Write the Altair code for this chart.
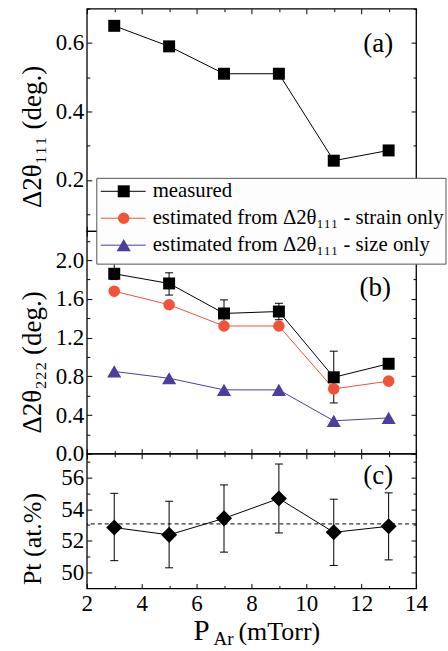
import altair as alt
import pandas as pd

# ---------------- data ----------------
p_ar = [3, 5, 7, 9, 11, 13]

d111_measured = [0.65, 0.59, 0.51, 0.51, 0.256, 0.286]

d222_measured = [1.86, 1.76, 1.45, 1.47, 0.79, 0.93]
d222_lo = [1.80, 1.64, 1.30, 1.385, 0.525, 0.88]
d222_hi = [1.97, 1.87, 1.59, 1.555, 1.06, 0.97]
d222_strain = [1.68, 1.54, 1.32, 1.32, 0.67, 0.75]
d222_size = [0.85, 0.78, 0.66, 0.66, 0.34, 0.37]

pt = [52.84, 52.38, 53.42, 54.67, 52.54, 52.92]
pt_lo = [50.75, 50.3, 51.29, 52.5, 50.45, 50.8]
pt_hi = [55.0, 54.5, 55.53, 56.85, 54.63, 55.03]
pt_mean = 53.07

series_names = ["measured",
                "estimated from Δ2θ₁₁₁ - strain only",
                "estimated from Δ2θ₁₁₁ - size only"]
series_colors = ["black", "#F25237", "#4B3E9E"]
series_shapes = ["square", "circle", "triangle-up"]
series_sizes = [144, 135, 200]

panel_labels = ["(a)", "(b)", "(c)"]
y_titles = ["Δ2θ₁₁₁ (deg.)", "Δ2θ₂₂₂ (deg.)", "Pt (at.%)"]
x_title_parts = ["P", "Ar", "(mTorr)"]

x_major = [2, 4, 6, 8, 10, 12, 14]
x_minor = [3, 5, 7, 9, 11, 13]
ya_major = [0.2, 0.4, 0.6]
ya_minor = [0.1, 0.3, 0.5, 0.7]
yb_major = [0.0, 0.4, 0.8, 1.2, 1.6, 2.0]
yb_minor = [0.2, 0.6, 1.0, 1.4, 1.8, 2.2]
yc_major = [50, 52, 54, 56]
yc_minor = [51, 53, 55, 57]

# ---------------- style ----------------
FONT = "Liberation Serif, DejaVu Serif, serif"
W = 330
HA, HB, HC = 223, 223, 135
MAJ, MIN = 5, 3
LABEL_SIZE = 23

x_scale = alt.Scale(domain=[2, 14], nice=False, zero=False)
ya_scale = alt.Scale(domain=[0.05, 0.70], nice=False, zero=False)
yb_scale = alt.Scale(domain=[0.0, 2.3], nice=False, zero=False)
yc_scale = alt.Scale(domain=[49, 57.5], nice=False, zero=False)


def tick_axis(orient, values, size):
    return alt.Axis(orient=orient, values=values, labels=False, domain=False,
                    grid=False, title=None, tickSize=size, offset=-size,
                    tickColor="black", tickWidth=1)


def axis_layers(df, yscale, ymaj, ymin, ytitle, title_y, title_size, yfmt, x_labels):
    base = alt.Chart(df).mark_point(opacity=0)

    def lay(xa, ya):
        return base.encode(x=alt.X("x:Q", scale=x_scale, axis=xa),
                           y=alt.Y("y:Q", scale=yscale, axis=ya))

    if x_labels:
        xlab = alt.Axis(orient="bottom", values=x_major, ticks=False, tickSize=0,
                        domain=False, grid=False, title=None, format="d",
                        labelFlush=False, labelOverlap=False, labelPadding=4,
                        labelFontSize=LABEL_SIZE, labelFont=FONT, labelColor="black")
    else:
        xlab = None
    ylab = alt.Axis(orient="left", values=ymaj, ticks=False, tickSize=0,
                    domain=False, grid=False, format=yfmt, labelOverlap=False,
                    labelPadding=3, labelFontSize=LABEL_SIZE, labelFont=FONT,
                    labelColor="black", title=ytitle, titleFont=FONT,
                    titleFontSize=title_size, titleFontWeight="normal", titleColor="black",
                    titleAngle=270, titleAlign="center", titleBaseline="alphabetic",
                    titleX=-46, titleY=title_y)
    return [
        lay(xlab, ylab),
        lay(tick_axis("bottom", x_major, MAJ), tick_axis("left", ymaj, MAJ)),
        lay(tick_axis("bottom", x_minor, MIN), tick_axis("left", ymin, MIN)),
        lay(tick_axis("top", x_major, MAJ), tick_axis("right", ymaj, MAJ)),
        lay(tick_axis("top", x_minor, MIN), tick_axis("right", ymin, MIN)),
    ]


def series(df, yscale, color, shape, size, ycol="y"):
    enc = dict(x=alt.X("x:Q", scale=x_scale, axis=None),
               y=alt.Y(f"{ycol}:Q", scale=yscale, axis=None))
    line = alt.Chart(df).mark_line(color=color, strokeWidth=1).encode(**enc)
    pts = alt.Chart(df).mark_point(shape=shape, filled=True, size=size, color=color,
                                   opacity=1, strokeWidth=0).encode(**enc)
    return line, pts


def errbars(df, yscale):
    rule = alt.Chart(df).mark_rule(color="black", strokeWidth=1).encode(
        x=alt.X("x:Q", scale=x_scale, axis=None),
        y=alt.Y("lo:Q", scale=yscale, axis=None), y2="hi:Q")
    cap_lo = alt.Chart(df).mark_tick(orient="horizontal", size=8, thickness=1,
                                     color="black", opacity=1).encode(
        x=alt.X("x:Q", scale=x_scale, axis=None),
        y=alt.Y("lo:Q", scale=yscale, axis=None))
    cap_hi = alt.Chart(df).mark_tick(orient="horizontal", size=8, thickness=1,
                                     color="black", opacity=1).encode(
        x=alt.X("x:Q", scale=x_scale, axis=None),
        y=alt.Y("hi:Q", scale=yscale, axis=None))
    return [rule, cap_lo, cap_hi]


def panel_label(text, x, y):
    return alt.Chart(pd.DataFrame({"t": [text]})).mark_text(
        font=FONT, fontSize=27, color="black", align="center", baseline="middle"
    ).encode(x=alt.value(x), y=alt.value(y), text="t:N")


# ---------------- panel (a) ----------------
dfa = pd.DataFrame({"x": p_ar, "y": d111_measured})
la, pa_pts = series(dfa, ya_scale, series_colors[0], series_shapes[0], series_sizes[0])
panel_a = alt.layer(
    *axis_layers(dfa, ya_scale, ya_major, ya_minor, y_titles[0], 128, 27, ".1f", False),
    la, pa_pts, panel_label(panel_labels[0], 292, 35)
).resolve_axis(x="independent", y="independent").properties(width=W, height=HA)

# ---------------- panel (b) ----------------
dfb = pd.DataFrame({"x": p_ar, "y": d222_measured, "lo": d222_lo, "hi": d222_hi})
dfs = pd.DataFrame({"x": p_ar, "y": d222_strain})
dfz = pd.DataFrame({"x": p_ar, "y": d222_size})
lz, pz = series(dfz, yb_scale, series_colors[2], series_shapes[2], series_sizes[2])
ls, ps = series(dfs, yb_scale, series_colors[1], series_shapes[1], series_sizes[1])
lm, pm = series(dfb, yb_scale, series_colors[0], series_shapes[0], series_sizes[0])

legend_layers = [
    alt.Chart(pd.DataFrame({"k": [0]})).mark_rect(
        fill="#fdfdfd", stroke="#555555", strokeWidth=1
    ).encode(x=alt.value(10), x2=alt.value(360), y=alt.value(-53), y2=alt.value(33))
]
for i, name in enumerate(series_names):
    yy = -40 + i * 27
    ldf = pd.DataFrame({"label": [name]})
    legend_layers.append(alt.Chart(ldf).mark_rule(color=series_colors[i], strokeWidth=1).encode(
        x=alt.value(14), x2=alt.value(59), y=alt.value(yy)))
    legend_layers.append(alt.Chart(ldf).mark_point(
        shape=series_shapes[i], filled=True, size=series_sizes[i], color=series_colors[i],
        opacity=1, strokeWidth=0).encode(x=alt.value(37), y=alt.value(yy)))
    legend_layers.append(alt.Chart(ldf).mark_text(
        font=FONT, fontSize=20.8, color="black", align="left", baseline="middle"
    ).encode(x=alt.value(66), y=alt.value(yy), text="label:N"))

panel_b = alt.layer(
    *axis_layers(dfb, yb_scale, yb_major, yb_minor, y_titles[1], 131, 27, ".1f", False),
    lz, ls, lm, *errbars(dfb, yb_scale), pz, ps, pm,
    panel_label(panel_labels[1], 289, 57),
    *legend_layers
).resolve_axis(x="independent", y="independent").properties(width=W, height=HB)

# ---------------- panel (c) ----------------
dfc = pd.DataFrame({"x": p_ar, "y": pt, "lo": pt_lo, "hi": pt_hi})
lc, pc_pts = series(dfc, yc_scale, "black", "diamond", 260)
mean_rule = alt.Chart(pd.DataFrame({"v": [pt_mean]})).mark_rule(
    color="black", strokeWidth=1, strokeDash=[4, 3]
).encode(y=alt.Y("v:Q", scale=yc_scale, axis=None))

xt = pd.DataFrame({"t": x_title_parts})
x_title_layers = [
    alt.Chart(xt.iloc[[0]]).mark_text(font=FONT, fontSize=29, color="black",
                                      align="left", baseline="alphabetic"
                                      ).encode(x=alt.value(107), y=alt.value(187), text="t:N"),
    alt.Chart(xt.iloc[[1]]).mark_text(font=FONT, fontSize=19, color="black",
                                      align="left", baseline="alphabetic"
                                      ).encode(x=alt.value(127), y=alt.value(192), text="t:N"),
    alt.Chart(xt.iloc[[2]]).mark_text(font=FONT, fontSize=26, color="black",
                                      align="left", baseline="alphabetic"
                                      ).encode(x=alt.value(152), y=alt.value(187), text="t:N"),
]

panel_c = alt.layer(
    *axis_layers(dfc, yc_scale, yc_major, yc_minor, y_titles[2], 85, 26, "d", True),
    mean_rule, lc, *errbars(dfc, yc_scale), pc_pts,
    panel_label(panel_labels[2], 292, 22),
    *x_title_layers
).resolve_axis(x="independent", y="independent").properties(width=W, height=HC)

chart = alt.vconcat(panel_a, panel_b, panel_c, spacing=0, bounds="flush").configure_view(
    stroke="black", strokeWidth=1.3
).properties(
    padding={"left": 18, "top": 6, "right": 0, "bottom": 0},
    background="white"
)

chart.save("out.html", embed_options={"renderer": "svg", "actions": False})
